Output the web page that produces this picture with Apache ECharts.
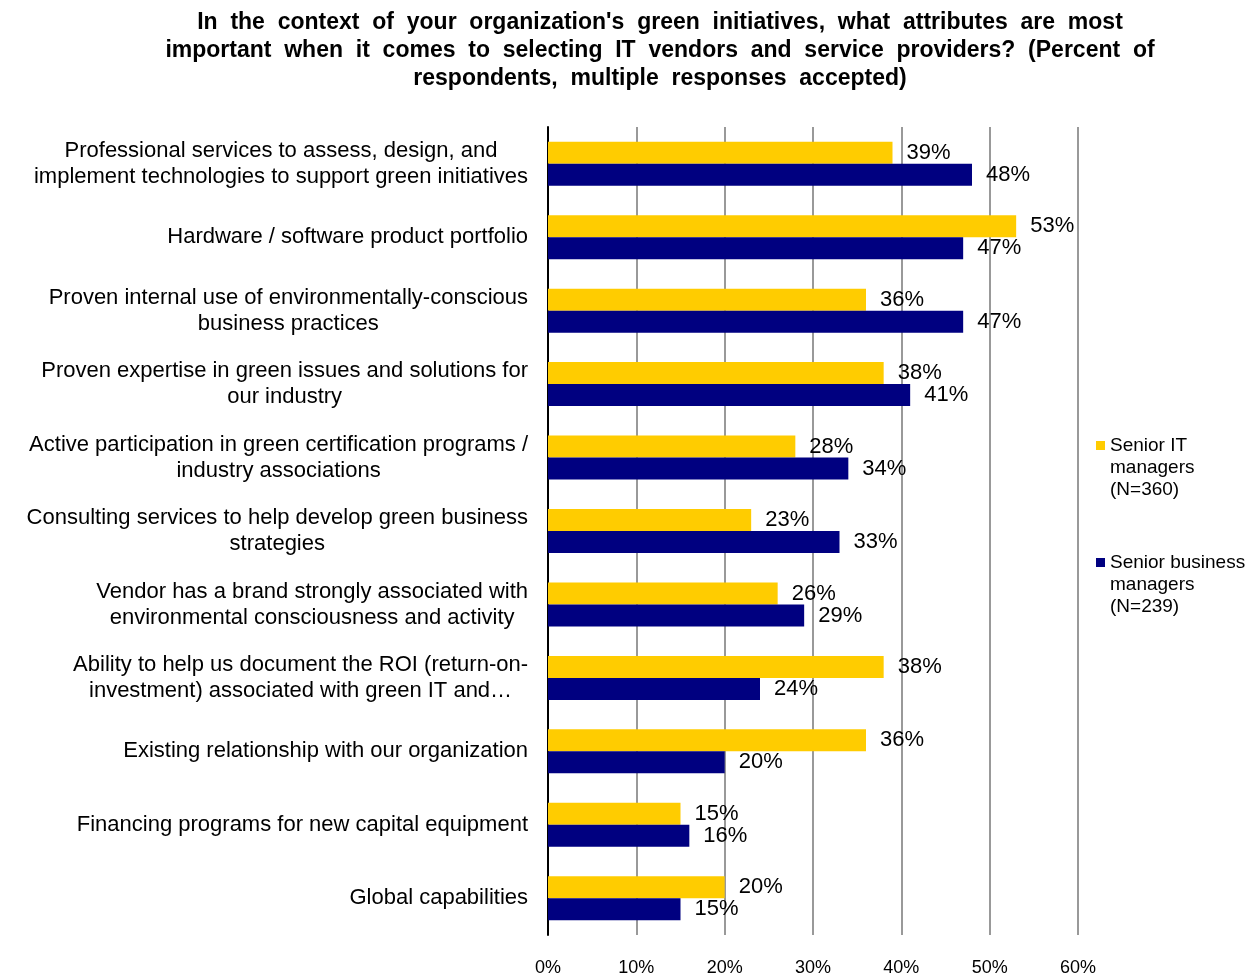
<!DOCTYPE html>
<html>
<head>
<meta charset="utf-8">
<script src="https://cdn.jsdelivr.net/npm/echarts@6/dist/echarts.min.js"></script>
<style>
  html, body { margin: 0; padding: 0; background: #fff; }
  #main { width: 1248px; height: 978px; }
</style>
</head>
<body>
<div id="main"></div>
<script>
// categories (top to bottom)
const categories = [
  "Professional services to assess, design, and\nimplement technologies to support green initiatives",
  "Hardware / software product portfolio",
  "Proven internal use of environmentally-conscious\nbusiness practices",
  "Proven expertise in green issues and solutions for\nour industry",
  "Active participation in green certification programs /\nindustry associations",
  "Consulting services to help develop green business\nstrategies",
  "Vendor has a brand strongly associated with\nenvironmental consciousness and activity",
  "Ability to help us document the ROI (return-on-\ninvestment) associated with green IT and…",
  "Existing relationship with our organization",
  "Financing programs for new capital equipment",
  "Global capabilities"
];
const seniorIT = [39, 53, 36, 38, 28, 23, 26, 38, 36, 15, 20];
const seniorBusiness = [48, 47, 47, 41, 34, 33, 29, 24, 20, 16, 15];
const seriesNames = ["Senior IT\nmanagers\n(N=360)", "Senior business\nmanagers\n(N=239)"];
const colors = ["#FFCC00", "#000080"];

const chart = echarts.init(document.getElementById("main"));
const font = "Liberation Sans, Arial, sans-serif";

const barLabel = {
  show: true,
  position: "right",
  distance: 14,
  formatter: "{c}%",
  color: "#000",
  fontSize: 22,
  fontFamily: font
};

chart.setOption({
  animation: false,
  title: {
    text: "In  the  context  of  your  organization's  green  initiatives,  what  attributes  are  most\nimportant  when  it  comes  to  selecting  IT  vendors  and  service  providers?  (Percent  of\nrespondents,  multiple  responses  accepted)",
    left: 660,
    top: 9,
    textAlign: "center",
    padding: 0,
    textStyle: {
      fontFamily: font,
      fontSize: 23,
      fontWeight: "bold",
      lineHeight: 28,
      color: "#000"
    }
  },
  grid: { left: 548, right: 170, top: 127, bottom: 43, containLabel: false },
  xAxis: {
    type: "value",
    min: 0,
    max: 60,
    interval: 10,
    axisLine: { show: false },
    axisTick: { show: false },
    axisLabel: { formatter: "{value}%", color: "#000", fontSize: 18, fontFamily: font, margin: 24 },
    splitLine: { lineStyle: { color: "#999", width: 2 } }
  },
  yAxis: {
    type: "category",
    inverse: true,
    data: categories,
    axisLine: { lineStyle: { color: "#000", width: 2 } },
    axisTick: { length: 6, lineStyle: { color: "#000", width: 2 } },
    axisLabel: {
      margin: 20,
      align: "right",
      // lines centred inside a right-aligned block, like the source
      formatter: v => v.split("\n").map(s => "{c|" + s + "}").join("\n"),
      rich: {
        c: { align: "center", color: "#000", fontSize: 22, lineHeight: 26, fontFamily: font }
      }
    }
  },
  series: [
    {
      name: seriesNames[0],
      type: "bar",
      data: seniorIT,
      barWidth: 22,
      barGap: "0%",
      itemStyle: { color: colors[0] },
      label: barLabel
    },
    {
      name: seriesNames[1],
      type: "bar",
      data: seniorBusiness,
      barWidth: 22,
      barGap: "0%",
      itemStyle: { color: colors[1] },
      label: barLabel
    }
  ],
  // legend drawn by hand so the swatch lines up with the first text line
  graphic: [
    { type: "rect", left: 1096, top: 441, shape: { width: 9, height: 9 }, style: { fill: colors[0] } },
    { type: "text", left: 1110, top: 435, style: { text: seriesNames[0], font: "19px " + font, lineHeight: 22, fill: "#000" } },
    { type: "rect", left: 1096, top: 558, shape: { width: 9, height: 9 }, style: { fill: colors[1] } },
    { type: "text", left: 1110, top: 552, style: { text: seriesNames[1], font: "19px " + font, lineHeight: 22, fill: "#000" } }
  ]
});
</script>
</body>
</html>
